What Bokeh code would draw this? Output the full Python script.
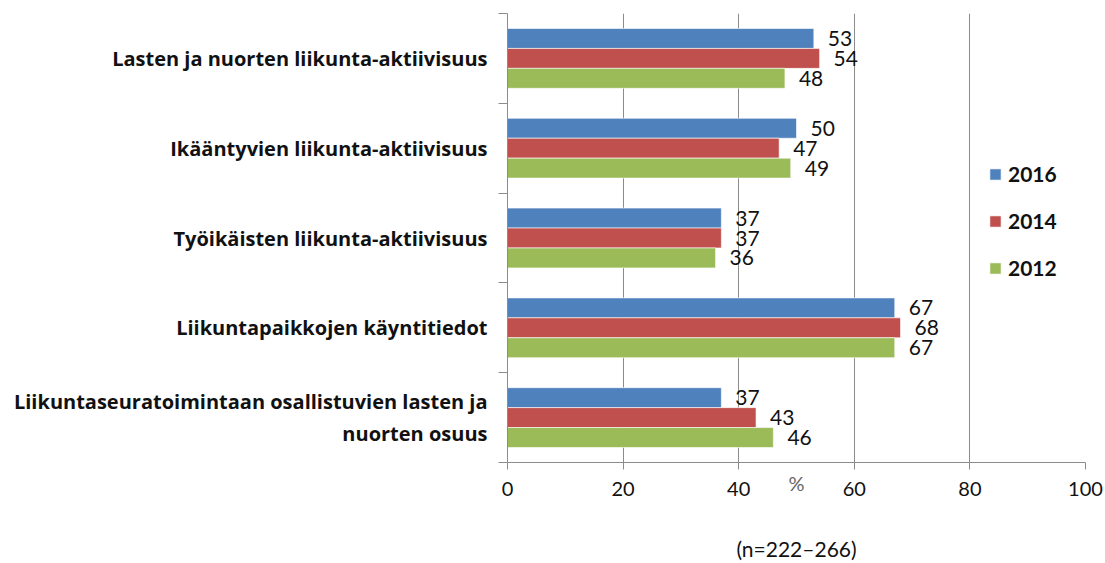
from bokeh.plotting import figure
from bokeh.models import (Range1d, LinearAxis, FixedTicker,
                          ColumnDataSource, Legend, LegendItem)
from bokeh.transform import dodge
from bokeh.core.properties import value
from bokeh.embed import file_html
from bokeh.resources import INLINE

# Indicators, top to bottom
categories = [
    "Lasten ja nuorten liikunta-aktiivisuus",
    "Ikääntyvien liikunta-aktiivisuus",
    "Työikäisten liikunta-aktiivisuus",
    "Liikuntapaikkojen käyntitiedot",
    "Liikuntaseuratoimintaan osallistuvien lasten ja\nnuorten osuus",
]
years = ["2016", "2014", "2012"]
v2016 = [53, 50, 37, 67, 37]
v2014 = [54, 47, 37, 68, 43]
v2012 = [48, 49, 36, 67, 46]
x_ticks = [0, 20, 40, 60, 80, 100]
colors = ["#4F81BD", "#C0504D", "#9BBB59"]
footnote = "(n=222\u2013266)"
unit = "%"

FONT = "Lato"
LABEL_FONT = "Open Sans"

n = len(categories)
# band centre of each indicator, first one at the top
centres = [n - i - 0.5 for i in range(n)]

src = ColumnDataSource(dict(
    pos=centres,
    y2016=v2016, y2014=v2014, y2012=v2012,
    t2016=[str(v) for v in v2016],
    t2014=[str(v) for v in v2014],
    t2012=[str(v) for v in v2012],
))

p = figure(width=1105, height=563, output_backend="svg", toolbar_location=None,
           y_range=Range1d(0, n), x_range=Range1d(0, 100),
           x_axis_location=None, y_axis_location=None,
           min_border_left=507, min_border_right=20, min_border_top=13, min_border_bottom=100)
p.outline_line_color = None
p.background_fill_color = "white"
p.ygrid.grid_line_color = None
p.xgrid.grid_line_color = "#8C8C8C"
p.xgrid.ticker = FixedTicker(ticks=x_ticks)

bar_h = 0.222
offsets = [bar_h, 0.0, -bar_h]
items = []
for yr, off, col in zip(years, offsets, colors):
    ycoord = dodge("pos", off)
    r = p.hbar(y=ycoord, left=0, right="y" + yr, height=bar_h, source=src,
               fill_color=col, line_color="white", line_width=0.6)
    p.text(x="y" + yr, y=ycoord, text="t" + yr, source=src,
           x_offset=14, text_baseline="middle", text_align="left",
           text_font=value(FONT), text_font_size="21px", text_color="#111111")
    items.append(LegendItem(label=yr, renderers=[r]))

# bottom value axis, with the unit sitting in the tick-label row
xaxis = LinearAxis(ticker=FixedTicker(ticks=x_ticks), axis_label=unit)
xaxis.axis_line_color = "#8C8C8C"
xaxis.major_tick_line_color = "#8C8C8C"
xaxis.major_tick_out = 7
xaxis.major_tick_in = 0
xaxis.minor_tick_line_color = None
xaxis.major_label_text_font = FONT
xaxis.major_label_text_font_size = "20px"
xaxis.major_label_text_color = "#111111"
xaxis.major_label_standoff = 12
xaxis.axis_label_text_font = FONT
xaxis.axis_label_text_font_size = "20px"
xaxis.axis_label_text_font_style = "normal"
xaxis.axis_label_text_color = "#666666"
xaxis.axis_label_standoff = -28
p.add_layout(xaxis, "below")

# bare axis below it that only carries the sample-size note
note_axis = LinearAxis(ticker=FixedTicker(ticks=[]), axis_label=footnote)
note_axis.axis_line_color = None
note_axis.major_tick_out = 0
note_axis.major_tick_in = 0
note_axis.minor_tick_line_color = None
note_axis.major_label_standoff = 0
note_axis.axis_label_standoff = 38
note_axis.axis_label_text_font = FONT
note_axis.axis_label_text_font_size = "21px"
note_axis.axis_label_text_font_style = "normal"
note_axis.axis_label_text_color = "#111111"
p.add_layout(note_axis, "below")

# indicator names at band centres, separator ticks between bands
cat_axis = LinearAxis(ticker=FixedTicker(ticks=centres, minor_ticks=list(range(n + 1))),
                      major_label_overrides={c: name for c, name in zip(centres, categories)})
cat_axis.axis_line_color = "#8C8C8C"
cat_axis.major_tick_line_color = None
cat_axis.major_tick_out = 0
cat_axis.major_tick_in = 0
cat_axis.minor_tick_line_color = "#8C8C8C"
cat_axis.minor_tick_out = 9
cat_axis.minor_tick_in = 0
cat_axis.major_label_standoff = 11
cat_axis.major_label_text_font = LABEL_FONT
cat_axis.major_label_text_font_style = "bold"
cat_axis.major_label_text_font_size = "20px"
cat_axis.major_label_text_color = "#111111"
cat_axis.major_label_text_align = "center"
p.add_layout(cat_axis, "left")

legend = Legend(items=items, location=(481, 182), orientation="vertical",
                glyph_width=14, glyph_height=14, label_height=20, spacing=22,
                padding=8, label_standoff=6,
                label_text_font=FONT, label_text_font_size="21px",
                label_text_font_style="bold",
                label_text_color="#111111",
                border_line_color=None, background_fill_alpha=0)
p.add_layout(legend, "center")

open("out.html", "w").write(file_html(p, INLINE))
